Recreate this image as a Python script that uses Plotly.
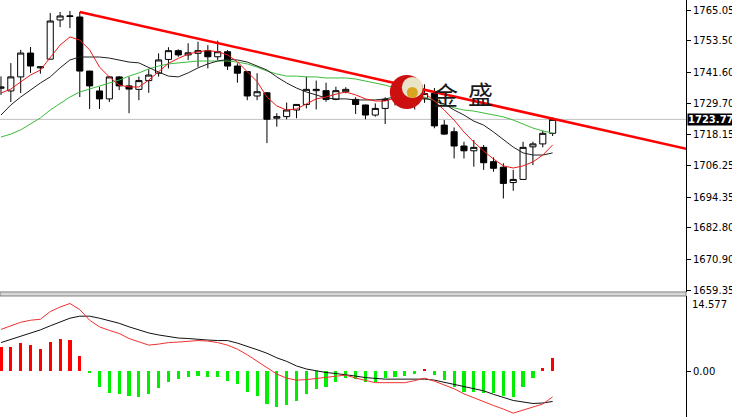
import plotly.graph_objects as go

# ---------------- data ----------------
idx = list(range(57))
opens = [1735.5, 1734.5, 1739.8, 1748.8, 1743.2, 1746.5, 1761.3, 1762.6, 1762.4, 1742.0,
         1734.5, 1731.5, 1739.8, 1736.4, 1735.1, 1738.4, 1741.2, 1746.4, 1749.7, 1748.1,
         1748.7, 1749.7, 1747.4, 1749.3, 1743.9, 1741.8, 1732.6, 1733.8, 1724.2, 1724.8,
         1727.3, 1729.4, 1734.6, 1734.6, 1731.3, 1734.2, 1731.3, 1729.2, 1725.4, 1727.9,
         1731.3, 1733.0, 1730.0, 1731.5, 1733.6, 1721.6, 1719.1, 1713.7, 1711.9, 1713.2,
         1707.8, 1705.7, 1699.9, 1701.1, 1713.4, 1714.5, 1718.5]
highs = [1740.0, 1745.0, 1750.0, 1751.1, 1743.8, 1763.9, 1764.3, 1764.7, 1764.3, 1742.1,
         1736.0, 1740.1, 1740.1, 1739.8, 1739.9, 1742.7, 1748.7, 1751.0, 1750.2, 1752.5,
         1753.1, 1751.8, 1753.5, 1749.9, 1744.9, 1742.0, 1741.2, 1734.0, 1726.1, 1730.1,
         1729.5, 1739.9, 1738.4, 1737.6, 1736.1, 1735.9, 1732.1, 1729.3, 1729.8, 1732.1,
         1736.0, 1738.0, 1735.0, 1737.0, 1735.6, 1723.5, 1720.7, 1715.3, 1716.0, 1714.1,
         1709.4, 1707.2, 1704.7, 1715.3, 1715.3, 1719.5, 1724.5]
lows = [1733.0, 1730.3, 1733.7, 1741.3, 1741.0, 1746.4, 1758.6, 1758.2, 1732.2, 1727.7,
        1727.7, 1730.3, 1734.8, 1726.1, 1731.0, 1733.8, 1739.9, 1743.0, 1747.4, 1746.2,
        1743.6, 1743.0, 1746.2, 1742.4, 1737.6, 1731.0, 1731.0, 1714.8, 1721.0, 1723.8,
        1724.2, 1727.9, 1727.5, 1730.4, 1731.0, 1733.6, 1725.8, 1723.8, 1724.8, 1722.0,
        1729.0, 1731.0, 1727.5, 1730.0, 1720.4, 1717.9, 1709.0, 1709.0, 1705.9, 1704.7,
        1704.0, 1693.9, 1696.8, 1700.9, 1706.5, 1713.2, 1717.5]
closes = [1736.0, 1739.8, 1748.8, 1743.9, 1743.6, 1760.9, 1762.8, 1762.8, 1742.0, 1736.4,
          1731.5, 1739.8, 1736.4, 1735.2, 1738.4, 1740.5, 1746.2, 1749.7, 1748.1, 1748.9,
          1749.7, 1747.4, 1749.3, 1743.9, 1741.2, 1732.6, 1734.2, 1723.8, 1724.8, 1727.3,
          1729.4, 1735.1, 1735.1, 1731.3, 1734.6, 1735.1, 1729.4, 1725.4, 1727.9, 1731.3,
          1733.0, 1735.5, 1731.5, 1733.5, 1721.3, 1718.2, 1713.7, 1711.9, 1713.2, 1707.4,
          1705.3, 1699.6, 1701.1, 1713.2, 1714.5, 1718.5, 1723.77]

ma_fast = [1733.7, 1735.2, 1737.9, 1740.5, 1742.4, 1746.9, 1751.8, 1754.9, 1753.7, 1750.0,
           1743.5, 1739.8, 1736.7, 1736.0, 1736.0, 1738.6, 1741.8, 1744.9, 1746.8, 1748.4,
           1749.3, 1749.7, 1749.3, 1748.1, 1745.5, 1741.8, 1738.0, 1732.2, 1728.8, 1727.3,
           1727.7, 1729.6, 1731.5, 1732.2, 1733.3, 1734.1, 1733.0, 1731.5, 1730.7, 1730.7,
           1731.8, 1733.0, 1733.7, 1733.7, 1730.7, 1727.3, 1723.5, 1719.0, 1715.2, 1711.8,
           1708.8, 1706.2, 1705.4, 1706.2, 1707.7, 1710.3, 1714.1]
ma_mid = [1725.4, 1729.2, 1732.2, 1734.9, 1737.5, 1739.8, 1743.2, 1746.2, 1747.3, 1747.3,
          1747.3, 1746.9, 1746.2, 1745.4, 1745.1, 1743.2, 1741.6, 1740.1, 1739.8, 1741.3,
          1743.2, 1744.7, 1745.8, 1746.4, 1746.2, 1745.4, 1743.9, 1742.4, 1739.8, 1737.5,
          1735.6, 1734.1, 1733.0, 1731.8, 1731.5, 1731.5, 1731.1, 1731.1, 1731.1, 1731.5,
          1732.2, 1732.6, 1732.6, 1731.8, 1730.7, 1729.6, 1727.3, 1725.4, 1723.1, 1721.6,
          1719.0, 1716.0, 1713.3, 1711.1, 1710.3, 1710.3, 1711.1]
ma_slow = [1717.1, 1718.2, 1719.8, 1722.0, 1724.3, 1727.3, 1729.9, 1732.2, 1734.1, 1735.2,
           1736.4, 1737.5, 1738.6, 1740.1, 1741.3, 1742.8, 1743.9, 1744.7, 1745.1, 1745.4,
           1745.8, 1745.8, 1745.8, 1745.8, 1745.4, 1744.7, 1743.5, 1742.0, 1740.9, 1740.1,
           1740.1, 1739.8, 1739.8, 1739.4, 1739.4, 1739.4, 1739.0, 1738.2, 1737.5, 1736.7,
           1735.6, 1734.5, 1733.3, 1732.2, 1730.7, 1729.2, 1728.1, 1727.3, 1726.9, 1726.2,
           1725.4, 1724.7, 1723.5, 1722.0, 1720.5, 1719.4, 1718.6]

trend_x = [8.0, 69.6]
trend_y = [1764.3, 1712.6]
last_price = 1723.77

price_ticks = [1765.05, 1753.50, 1741.60, 1729.70, 1718.15, 1706.25, 1694.35, 1682.80, 1670.90, 1659.35]
price_ticktext = ["1765.05", "1753.50", "1741.60", "1729.70", "1718.15", "1706.25", "1694.35",
                  "1682.80", "1670.90", "1659.35"]

hist = [4.8, 4.8, 5.6, 5.1, 4.3, 5.8, 6.3, 6.1, 3.0, -0.4,
        -3.2, -4.4, -4.5, -4.9, -5.1, -4.5, -3.4, -2.1, -1.6, -1.1,
        -1.0, -1.1, -1.1, -1.9, -2.6, -4.1, -4.9, -6.5, -7.0, -6.7,
        -6.0, -4.5, -3.5, -3.1, -2.2, -1.4, -1.6, -2.1, -2.1, -1.4,
        -1.2, -1.0, -0.5, 0.3, -0.8, -1.8, -3.1, -4.1, -4.1, -4.4,
        -4.4, -4.9, -5.2, -3.1, -1.4, 0.5, 2.5]
macd_main = [8.2, 8.9, 9.6, 10.0, 10.2, 11.7, 12.6, 13.3, 12.1, 10.0,
             8.7, 8.0, 7.4, 6.4, 5.8, 5.1, 5.3, 5.6, 5.7, 5.8,
             6.0, 5.9, 5.6, 5.1, 4.3, 3.2, 1.9, 0.6, -0.6, -1.4,
             -1.8, -1.7, -1.5, -1.2, -1.1, -0.8, -1.4, -1.8, -2.3, -2.3,
             -2.3, -2.3, -1.9, -1.4, -2.0, -2.8, -3.5, -4.5, -5.3, -6.0,
             -6.8, -7.5, -8.3, -7.7, -7.1, -6.5, -5.1]
macd_signal = [5.6, 6.2, 6.8, 7.5, 8.1, 8.9, 9.7, 10.4, 10.8, 10.8,
               10.4, 9.9, 9.4, 8.7, 8.1, 7.5, 7.1, 6.8, 6.5, 6.4,
               6.2, 6.1, 6.0, 6.0, 5.5, 4.9, 4.2, 3.5, 2.6, 1.9,
               1.0, 0.4, 0.0, -0.3, -0.5, -0.7, -1.0, -1.3, -1.5, -1.6,
               -1.6, -1.6, -1.6, -1.6, -1.8, -2.2, -2.6, -3.0, -3.4, -3.9,
               -4.6, -5.2, -5.8, -6.1, -6.4, -6.3, -6.0]
macd_top_label = "14.577"

# ---------------- figure ----------------
fig = go.Figure()

fig.add_trace(go.Candlestick(
    x=idx, open=opens, high=highs, low=lows, close=closes,
    increasing=dict(fillcolor="white", line=dict(color="black", width=1)),
    decreasing=dict(fillcolor="black", line=dict(color="black", width=1)),
    whiskerwidth=0, xaxis="x", yaxis="y", showlegend=False, hoverinfo="skip"))

fig.add_trace(go.Scatter(x=idx, y=ma_slow, mode="lines", line=dict(color="#3cbc3c", width=1),
                         xaxis="x", yaxis="y", showlegend=False, hoverinfo="skip"))
fig.add_trace(go.Scatter(x=idx, y=ma_mid, mode="lines", line=dict(color="#202020", width=1),
                         xaxis="x", yaxis="y", showlegend=False, hoverinfo="skip"))
fig.add_trace(go.Scatter(x=idx, y=ma_fast, mode="lines", line=dict(color="#f01818", width=1),
                         xaxis="x", yaxis="y", showlegend=False, hoverinfo="skip"))
fig.add_trace(go.Scatter(x=trend_x, y=trend_y, mode="lines", line=dict(color="#ff0000", width=2.5),
                         xaxis="x", yaxis="y", showlegend=False, hoverinfo="skip"))

bar_colors = ["#ff0000" if v > 0 else "#00ee00" for v in hist]
fig.add_trace(go.Bar(x=idx, y=hist, marker=dict(color=bar_colors, line=dict(width=0)),
                     width=0.32, xaxis="x2", yaxis="y2", showlegend=False, hoverinfo="skip"))
fig.add_trace(go.Scatter(x=idx, y=macd_signal, mode="lines", line=dict(color="#101010", width=1),
                         xaxis="x2", yaxis="y2", showlegend=False, hoverinfo="skip"))
fig.add_trace(go.Scatter(x=idx, y=macd_main, mode="lines", line=dict(color="#f03030", width=1),
                         xaxis="x2", yaxis="y2", showlegend=False, hoverinfo="skip"))

xr = [-0.1, 69.54]
price_dom = [0.2998, 1.0]
macd_dom = [0.0, 0.2902]
tickfont = dict(family="DejaVu Sans", size=10, color="#000000")

fig.update_layout(
    width=732, height=417,
    margin=dict(l=0, r=46, t=0, b=0, autoexpand=False),
    paper_bgcolor="white", plot_bgcolor="white",
    boxgap=0.38, boxgroupgap=0,
    hovermode=False,
    xaxis=dict(domain=[0, 1], range=xr, anchor="y", visible=False, automargin=False,
               rangeslider=dict(visible=False)),
    xaxis2=dict(domain=[0, 1], range=xr, anchor="y2", visible=False, automargin=False),
    yaxis=dict(domain=price_dom, range=[1658.6, 1768.83], side="right", anchor="x", automargin=False,
               showgrid=False, zeroline=False, showline=True, linecolor="#000000", linewidth=1,
               ticks="outside", ticklen=4, tickcolor="#000000",
               tickvals=price_ticks, ticktext=price_ticktext, tickfont=tickfont),
    yaxis2=dict(domain=macd_dom, range=[-9.06, 14.78], side="right", anchor="x2", automargin=False,
                showgrid=False, zeroline=False, showline=True, linecolor="#000000", linewidth=1,
                ticks="outside", ticklen=4, tickcolor="#000000",
                tickvals=[0], ticktext=["0.00"], tickfont=tickfont),
    bargap=0,
)

# last price line and label
fig.add_shape(type="line", xref="paper", x0=0, x1=1, yref="y", y0=last_price, y1=last_price,
              line=dict(color="#c0c0c0", width=1), layer="below")
fig.add_annotation(xref="paper", x=1.0, xanchor="left", yref="y", y=last_price, yanchor="middle",
                   text="<b>%.2f</b>" % last_price, showarrow=False, bgcolor="#000000",
                   font=dict(family="DejaVu Sans", size=10, color="white"), borderpad=0, xshift=1)

# panel separator
fig.add_shape(type="rect", xref="paper", x0=0, x1=1, yref="paper", y0=macd_dom[1], y1=price_dom[0],
              fillcolor="#d8d8d8", line=dict(color="#808080", width=1))

fig.add_annotation(xref="paper", x=1.0, xanchor="left", yref="paper", y=macd_dom[1], yanchor="top",
                   text=macd_top_label, showarrow=False, xshift=4, yshift=-1,
                   font=tickfont)

# watermark logo
logo_x = 41.2
logo_y = 1734.1
fig.add_shape(type="circle", xref="x", yref="y", xsizemode="pixel", ysizemode="pixel",
              xanchor=logo_x, yanchor=logo_y, x0=-17, x1=17, y0=-17, y1=17,
              fillcolor="#cc1010", line=dict(width=0), layer="above")
fig.add_shape(type="circle", xref="x", yref="y", xsizemode="pixel", ysizemode="pixel",
              xanchor=logo_x, yanchor=logo_y, x0=-5, x1=16, y0=-6, y1=15,
              fillcolor="#e9e4c8", line=dict(width=0), layer="above")
fig.add_shape(type="circle", xref="x", yref="y", xsizemode="pixel", ysizemode="pixel",
              xanchor=logo_x, yanchor=logo_y, x0=0, x1=11, y0=-6, y1=5,
              fillcolor="#d9a520", line=dict(width=0), layer="above")

fig.add_annotation(xref="x", yref="y", x=45.1, y=1733.4, text="金", showarrow=False,
                   font=dict(family="Noto Sans CJK SC", size=25, color="#1a1a1a"))
fig.add_annotation(xref="x", yref="y", x=48.7, y=1733.7, text="盛", showarrow=False,
                   font=dict(family="Noto Sans CJK SC", size=25, color="#1a1a1a"))

fig.write_html("out.html", config={"displayModeBar": False, "staticPlot": True},
               post_script="document.body.style.margin='0';document.body.style.padding='0';"
                           "document.body.style.overflow='hidden';")
